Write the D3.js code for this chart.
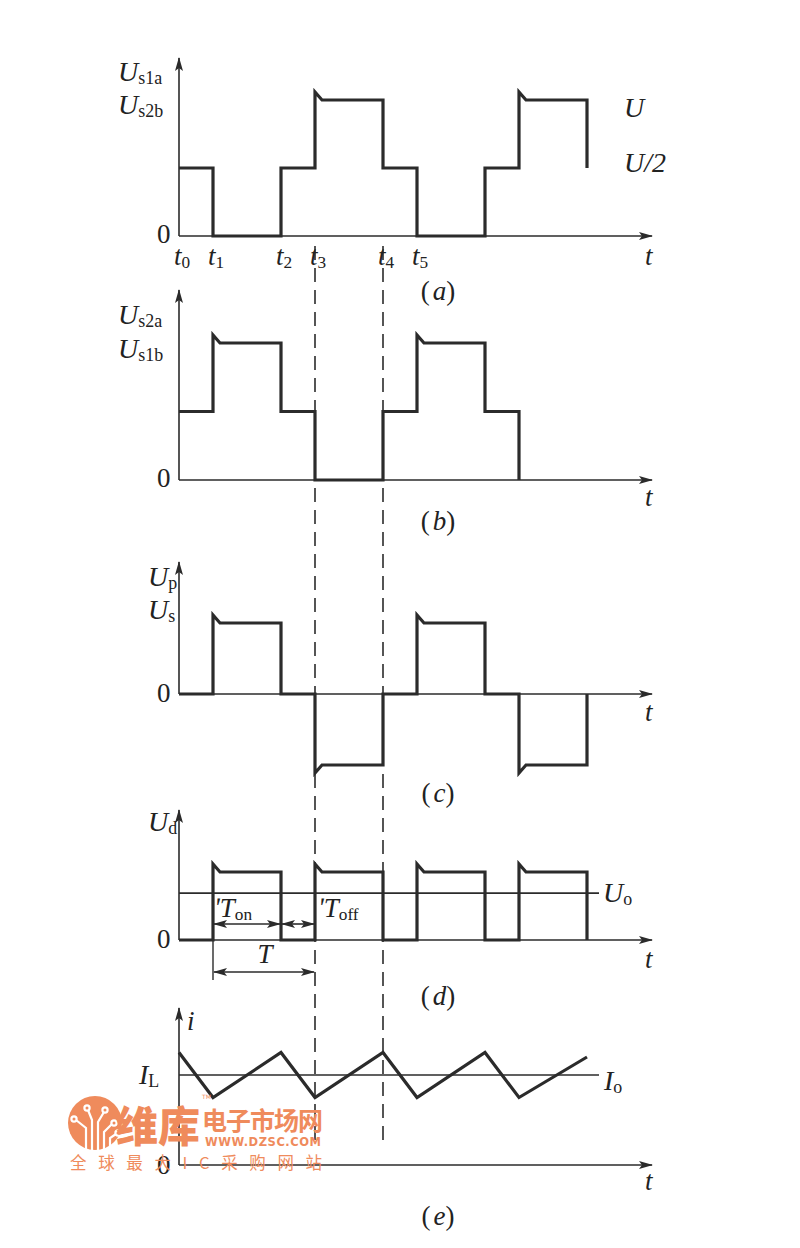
<!DOCTYPE html>
<html>
<head>
<meta charset="utf-8">
<script src="https://cdn.jsdelivr.net/npm/d3@7"></script>
<style>
  html, body { margin: 0; padding: 0; background: #fff; }
  svg { display: block; }
  .lbl { font-family: "Liberation Serif", "Times New Roman", serif; fill: #222; }
</style>
</head>
<body>
<div id="chart"></div>
<script>
// switching instants (in units of the half-step), shared by every panel
const times = [0, 1, 3, 4, 6, 7, 9, 10, 12];

// (a) Us1a / Us2b : 0, U/2, U
const aLevels = [0.5, 0, 0.5, 1, 0.5, 0, 0.5, 1];
const aEnd = 0.5;
// (b) Us2a / Us1b
const bTimes = [0, 1, 3, 4, 6, 7, 9, 10];
const bLevels = [0.5, 1, 0.5, 0, 0.5, 1, 0.5];
const bEnd = 0;
// (c) Up / Us
const cLevels = [0, 1, 0, -1, 0, 1, 0, -1];
const cEnd = 0;
// (d) Ud
const dLevels = [0, 1, 0, 1, 0, 1, 0, 1];
const dEnd = 0;
const dUo = 0.69;
// (e) inductor current, triangle wave
const eValues = [1.25, 0.75, 1.25, 0.75, 1.25, 0.75, 1.25, 0.75, 1.2];
const eIo = 1;

// labels of panel (a) time axis
const tickTimes = [0, 1, 3, 4, 6, 7];
const tickNames = ["0", "1", "2", "3", "4", "5"];
const panelNames = ["a", "b", "c", "d", "e"];

const width = 800, height = 1248;
const ink = "#2b2b2b";

const svg = d3.select("#chart").append("svg")
    .attr("width", width)
    .attr("height", height);

const x = d3.scaleLinear().domain([0, 12]).range([179, 587]);
const xAxisEnd = 652;

// vertical scales, one per panel
const yA = d3.scaleLinear().domain([0, 1]).range([236, 100]);
const yB = d3.scaleLinear().domain([0, 1]).range([480, 343]);
const yC = d3.scaleLinear().domain([-1, 1]).range([765, 623]);
const yD = d3.scaleLinear().domain([0, 1]).range([940, 872]);
const yE = d3.scaleLinear().domain([0, 1]).range([1165, 1075]);

const defs = svg.append("defs");
defs.append("marker")
    .attr("id", "arrowHead")
    .attr("viewBox", "0 0 14 8")
    .attr("refX", 13).attr("refY", 4)
    .attr("markerWidth", 14).attr("markerHeight", 8)
    .attr("markerUnits", "userSpaceOnUse")
    .attr("orient", "auto-start-reverse")
    .append("path")
    .attr("d", "M0,0 L14,4 L0,8 L3,4 Z")
    .attr("fill", ink);

const line = d3.line();

// axes: vertical with arrow, horizontal with arrow
function drawAxes(y, top) {
    const y0 = y(0);
    svg.append("line")
        .attr("x1", x(0)).attr("y1", y0)
        .attr("x2", x(0)).attr("y2", top)
        .attr("stroke", ink).attr("stroke-width", 1.6)
        .attr("marker-end", "url(#arrowHead)");
    svg.append("line")
        .attr("x1", x(0)).attr("y1", y0)
        .attr("x2", xAxisEnd).attr("y2", y0)
        .attr("stroke", ink).attr("stroke-width", 1.6)
        .attr("marker-end", "url(#arrowHead)");
}

// stepped waveform with an overshoot on each full-level edge
function stepPoints(ts, levels, endLevel, y) {
    const pts = [];
    const spikeH = 8, spikeW = 7;
    for (let i = 0; i < levels.length; i++) {
        const lv = levels[i];
        const prev = i === 0 ? lv : levels[i - 1];
        const xs = x(ts[i]), xe = x(ts[i + 1]);
        if (Math.abs(lv) === 1 && Math.abs(prev) < 1 && i > 0) {
            const dir = lv > 0 ? -1 : 1;
            pts.push([xs, y(prev)]);
            pts.push([xs, y(lv) + dir * spikeH]);
            pts.push([xs + spikeW, y(lv)]);
        } else {
            pts.push([xs, y(prev)]);
            pts.push([xs, y(lv)]);
        }
        pts.push([xe, y(lv)]);
    }
    pts.push([x(ts[levels.length]), y(endLevel)]);
    return pts;
}

function drawWave(pts) {
    svg.append("path")
        .attr("d", line(pts))
        .attr("fill", "none")
        .attr("stroke", ink)
        .attr("stroke-width", 3.2)
        .attr("stroke-linejoin", "miter");
}

// helper: italic letter + upright subscript
function symbol(px, py, main, sub, size, anchor) {
    const t = svg.append("text").attr("class", "lbl")
        .attr("x", px).attr("y", py)
        .attr("font-size", size)
        .attr("text-anchor", anchor || "start");
    t.append("tspan").attr("font-style", "italic").text(main);
    if (sub) {
        t.append("tspan").attr("font-size", size * 0.64).attr("dy", 3).text(sub);
    }
    return t;
}

function plainText(px, py, str, size, italic, anchor) {
    return svg.append("text").attr("class", "lbl")
        .attr("x", px).attr("y", py)
        .attr("font-size", size)
        .attr("font-style", italic ? "italic" : "normal")
        .attr("text-anchor", anchor || "start")
        .text(str);
}

function panelCaption(py, letter) {
    const t = svg.append("text").attr("class", "lbl")
        .attr("x", 438).attr("y", py)
        .attr("font-size", 27)
        .attr("text-anchor", "middle");
    t.append("tspan").text("(");
    t.append("tspan").attr("font-style", "italic").attr("dx", 3).text(letter);
    t.append("tspan").text(")");
}

// dashed guide lines at t3 and t4
[times[3], times[4]].forEach(tt => {
    svg.append("line")
        .attr("x1", x(tt)).attr("x2", x(tt))
        .attr("y1", 246).attr("y2", 1148)
        .attr("stroke", ink).attr("stroke-width", 1.6)
        .attr("stroke-dasharray", "14,8");
});

// ---- (a)
drawAxes(yA, 58);
drawWave(stepPoints(times, aLevels, aEnd, yA));
symbol(118, 81, "U", "s1a", 28);
symbol(118, 114, "U", "s2b", 28);
plainText(157, 243, "0", 27);
tickTimes.forEach((tt, i) => symbol(x(tt) + 3, 265, "t", tickNames[i], 27, "middle"));
plainText(645, 265, "t", 27, true);
plainText(624, 117, "U", 28, true);
plainText(624, 172, "U/2", 28, true);
panelCaption(300, panelNames[0]);

// ---- (b)
drawAxes(yB, 290);
drawWave(stepPoints(bTimes, bLevels, bEnd, yB));
symbol(118, 324, "U", "s2a", 28);
symbol(118, 358, "U", "s1b", 28);
plainText(157, 487, "0", 27);
plainText(645, 506, "t", 27, true);
panelCaption(530, panelNames[1]);

// ---- (c)
drawAxes(yC, 562);
drawWave(stepPoints(times, cLevels, cEnd, yC));
symbol(148, 586, "U", "p", 28);
symbol(148, 619, "U", "s", 28);
plainText(157, 702, "0", 27);
plainText(645, 721, "t", 27, true);
panelCaption(802, panelNames[2]);

// ---- (d)
drawAxes(yD, 810);
drawWave(stepPoints(times, dLevels, dEnd, yD));
svg.append("line")
    .attr("x1", x(0)).attr("x2", x(12) + 12)
    .attr("y1", yD(dUo)).attr("y2", yD(dUo))
    .attr("stroke", ink).attr("stroke-width", 1.6);
symbol(148, 831, "U", "d", 28);
symbol(603, 902, "U", "o", 28);
plainText(157, 948, "0", 27);
plainText(645, 968, "t", 27, true);
// Ton / Toff / T dimension arrows
svg.append("line")
    .attr("x1", x(times[1])).attr("x2", x(times[1]))
    .attr("y1", yD(0)).attr("y2", 980)
    .attr("stroke", ink).attr("stroke-width", 1.4);
function dimArrow(t1, t2, py) {
    svg.append("line")
        .attr("x1", x(t1) + 1).attr("x2", x(t2) - 1)
        .attr("y1", py).attr("y2", py)
        .attr("stroke", ink).attr("stroke-width", 1.6)
        .attr("marker-start", "url(#arrowHead)")
        .attr("marker-end", "url(#arrowHead)");
}
dimArrow(times[1], times[2], 924);
dimArrow(times[2], times[3], 924);
dimArrow(times[1], times[3], 972);
symbol(214, 917, "\u02B9T", "on", 27);
symbol(318, 917, "\u02B9T", "off", 27);
plainText(265, 963, "T", 27, true, "middle");
panelCaption(1005, panelNames[3]);

// ---- (e)
drawAxes(yE, 1008);
svg.append("line")
    .attr("x1", x(0)).attr("x2", x(12) + 12)
    .attr("y1", yE(eIo)).attr("y2", yE(eIo))
    .attr("stroke", ink).attr("stroke-width", 1.6);
drawWave(times.map((tt, i) => [x(tt), yE(eValues[i])]));
plainText(187, 1030, "i", 27, true);
symbol(139, 1084, "I", "L", 28);
symbol(604, 1090, "I", "o", 28);
plainText(157, 1174, "0", 27);
plainText(645, 1190, "t", 27, true);
panelCaption(1225, panelNames[4]);

// ---- watermark
const wm = svg.append("g").attr("fill", "#ef8b5c");
wm.append("circle").attr("cx", 95).attr("cy", 1123).attr("r", 27);
const circuit = wm.append("g").attr("stroke", "#fff").attr("stroke-width", 2.2).attr("fill", "none");
["M86,1150 L86,1128 L76,1120", "M92,1150 L92,1120 L88,1110", "M98,1150 L98,1122 L104,1112",
 "M104,1150 L104,1132 L112,1124", "M110,1146 L110,1138 L116,1134"].forEach(d =>
    circuit.append("path").attr("d", d));
[[74, 1119], [87, 1108], [105, 1110], [114, 1123], [118, 1133]].forEach(p =>
    circuit.append("circle").attr("cx", p[0]).attr("cy", p[1]).attr("r", 2.6));
wm.append("text").attr("x", 116).attr("y", 1142)
    .attr("font-family", '"Noto Sans CJK SC"').attr("font-weight", 900)
    .attr("font-size", 42).attr("textLength", 84).text("维库");
wm.append("text").attr("x", 202).attr("y", 1130)
    .attr("font-family", '"Noto Sans CJK SC"').attr("font-weight", 700)
    .attr("font-size", 25).attr("textLength", 121).text("电子市场网");
wm.append("text").attr("x", 202).attr("y", 1099)
    .attr("font-family", "DejaVu Sans").attr("font-size", 6).text("TM");
wm.append("text").attr("x", 205).attr("y", 1146)
    .attr("font-family", "DejaVu Sans").attr("font-weight", 700)
    .attr("font-size", 11.5).attr("textLength", 116).text("WWW.DZSC.COM");
wm.append("text").attr("x", 70).attr("y", 1169)
    .attr("font-family", '"Noto Sans CJK SC"').attr("font-weight", 400)
    .attr("font-size", 16.5).attr("textLength", 252).text("全球最大IC采购网站");
</script>
</body>
</html>
